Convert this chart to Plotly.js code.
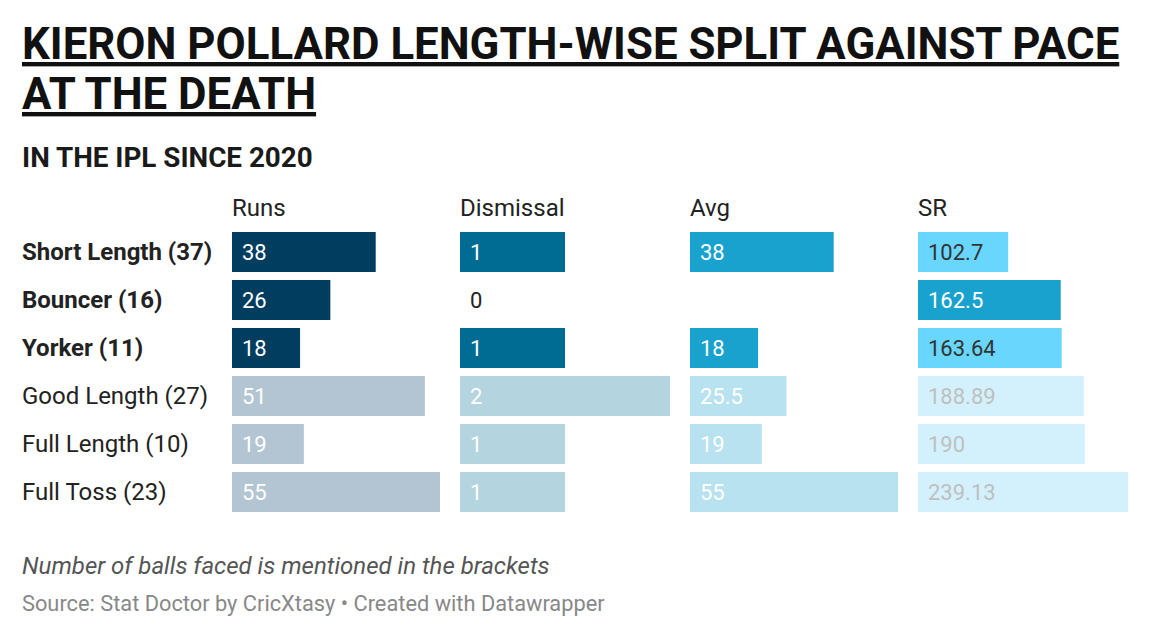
<!DOCTYPE html>
<html>
<head>
<meta charset="utf-8">
<script src="https://cdn.plot.ly/plotly-3.0.1.min.js"></script>
<style>html,body{margin:0;padding:0;background:#fff;}#chart{width:1158px;height:636px;}</style>
</head>
<body>
<div id="chart"></div>
<script>
const categories = ["Short Length (37)", "Bouncer (16)", "Yorker (11)", "Good Length (27)", "Full Length (10)", "Full Toss (23)"];
const highlighted = [true, true, true, false, false, false];
const columns = ["Runs", "Dismissal", "Avg", "SR"];
const runs = [38, 26, 18, 51, 19, 55];
const dismissals = [1, 0, 1, 2, 1, 1];
const avg = [38, null, 18, 25.5, 19, 55];
const sr = [102.7, 162.5, 163.64, 188.89, 190, 239.13];
const srLabels = ["102.7", "162.5", "163.64", "188.89", "190", "239.13"];
const avgLabels = ["38", "", "18", "25.5", "19", "55"];

const series = [runs, dismissals, avg, sr];
const labels = [runs.map(String), dismissals.map(String), avgLabels, srLabels];

const barColors = [
  ["#003d5f", "#003d5f", "#003d5f", "#b3c5d3", "#b3c5d3", "#b3c5d3"],
  ["#006c94", "#006c94", "#006c94", "#b4d4e0", "#b4d4e0", "#b4d4e0"],
  ["#1aa2cf", "#1aa2cf", "#1aa2cf", "#b8e2ef", "#b8e2ef", "#b8e2ef"],
  ["#69d6fd", "#1aa2cf", "#69d6fd", "#d3f1fc", "#d3f1fc", "#d3f1fc"]
];
const textColors = [
  ["#ffffff", "#ffffff", "#ffffff", "#ffffff", "#ffffff", "#ffffff"],
  ["#ffffff", "#222222", "#ffffff", "#ffffff", "#ffffff", "#ffffff"],
  ["#ffffff", "#ffffff", "#ffffff", "#ffffff", "#ffffff", "#ffffff"],
  ["#333333", "#ffffff", "#333333", "#bfbfbf", "#bfbfbf", "#bfbfbf"]
];

const axisIds = ["x", "x2", "x3", "x4"];
const W = 1158, ML = 232, MR = 30;
const PW = W - ML - MR;
const pix = [[232, 440], [460, 670], [690, 898], [918, 1128]];
const domains = pix.map(p => [(p[0] - ML) / PW, (p[1] - ML) / PW]);

const FONT = "Roboto, 'Noto Sans', sans-serif";

const traces = series.map((vals, i) => ({
  type: "bar",
  orientation: "h",
  y: categories,
  x: vals,
  xaxis: axisIds[i],
  yaxis: "y",
  marker: { color: barColors[i], line: { width: 0 } },
  hoverinfo: "skip",
  showlegend: false
}));

const annotations = [];
// value labels
series.forEach((vals, i) => {
  vals.forEach((v, j) => {
    if (labels[i][j] === "") return;
    annotations.push({
      xref: axisIds[i], yref: "y", x: 0, y: categories[j],
      xanchor: "left", yanchor: "middle", xshift: 8,
      text: labels[i][j], showarrow: false,
      font: { family: FONT, size: 22, color: textColors[i][j] }
    });
  });
});
// column headers
columns.forEach((c, i) => {
  annotations.push({
    xref: "paper", yref: "paper", x: domains[i][0], y: 1,
    xanchor: "left", yanchor: "middle", yshift: 20, xshift: -2,
    text: c, showarrow: false,
    font: { family: FONT, size: 24, color: "#222222" }
  });
});
// row labels
categories.forEach((c, j) => {
  annotations.push({
    xref: "paper", yref: "y", x: (22 - ML) / PW, y: c,
    xanchor: "left", yanchor: "middle", xshift: -2,
    text: highlighted[j] ? "<b>" + c + "</b>" : c, showarrow: false,
    font: { family: FONT, size: 24, color: "#222222" }
  });
});
// titles and notes
const pxX = (px) => (px - ML) / PW;
const titleLines = ["KIERON POLLARD LENGTH-WISE SPLIT AGAINST PACE", "AT THE DEATH"];
const titleY = [44, 94];
titleLines.forEach((t, k) => {
  annotations.push({
    xref: "paper", yref: "paper", x: pxX(22), y: 1, xanchor: "left", yanchor: "middle",
    yshift: 228 - titleY[k], xshift: -2, align: "left",
    text: "<b><u>" + t + "</u></b>",
    showarrow: false, font: { family: FONT, size: 43.8, color: "#111111" }
  });
});
annotations.push({
  xref: "paper", yref: "paper", x: pxX(22), y: 1, xanchor: "left", yanchor: "middle",
  yshift: 228 - 157, xshift: -2,
  text: "<b>IN THE IPL SINCE 2020</b>", showarrow: false,
  font: { family: FONT, size: 27.8, color: "#1a1a1a" }
});
annotations.push({
  xref: "paper", yref: "paper", x: pxX(22), y: 0, xanchor: "left", yanchor: "middle",
  yshift: -(566 - 516), xshift: -2,
  text: "<i>Number of balls faced is mentioned in the brackets</i>", showarrow: false,
  font: { family: FONT, size: 24, color: "#555555" }
});
annotations.push({
  xref: "paper", yref: "paper", x: pxX(22), y: 0, xanchor: "left", yanchor: "middle",
  yshift: -(603 - 516), xshift: -2,
  text: "Source: Stat Doctor by CricXtasy • Created with Datawrapper", showarrow: false,
  font: { family: FONT, size: 21.8, color: "#888888" }
});

const layout = {
  width: 1158, height: 636,
  margin: { l: ML, r: MR, t: 228, b: 120, pad: 0 },
  paper_bgcolor: "#ffffff", plot_bgcolor: "#ffffff",
  bargap: 1 - 40 / 48,
  showlegend: false,
  font: { family: FONT },
  yaxis: {
    type: "category", categoryorder: "array", categoryarray: categories,
    autorange: false, range: [5.5, -0.5],
    showticklabels: false, showgrid: false, zeroline: false, showline: false, ticks: ""
  },
  annotations: annotations
};
const ranges = [[0, 55], [0, 2], [0, 55], [0, 239.13]];
axisIds.forEach((id, i) => {
  const key = i === 0 ? "xaxis" : "xaxis" + (i + 1);
  layout[key] = {
    domain: domains[i], range: ranges[i], anchor: "y",
    showticklabels: false, showgrid: false, zeroline: false, showline: false, ticks: "",
    fixedrange: true
  };
});

Plotly.newPlot("chart", traces, layout, { displayModeBar: false, staticPlot: true });
</script>
</body>
</html>
